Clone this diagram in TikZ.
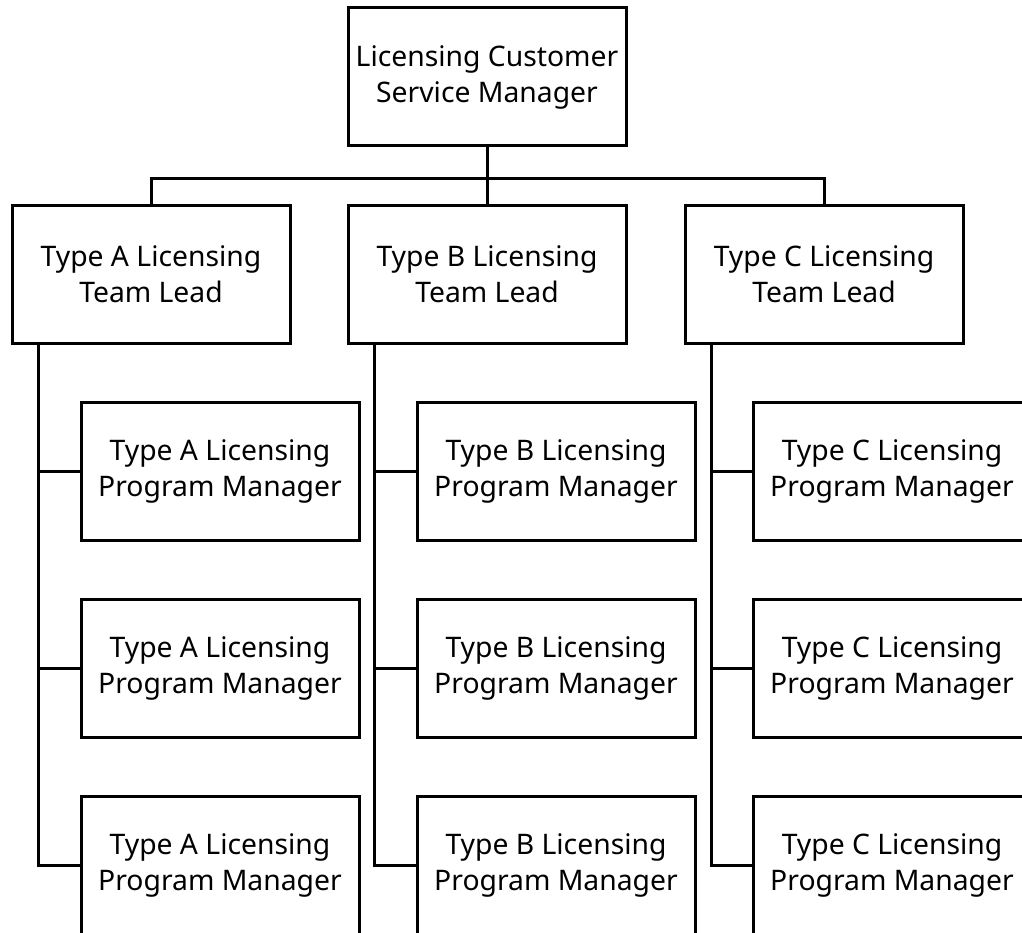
\documentclass[tikz,border=0pt]{standalone}
\usepackage{fontspec}
\setmainfont{Noto Sans}
\begin{document}
\begin{tikzpicture}[x=1pt,y=-1pt,
  label font/.style={font=\fontsize{28.3}{36}\selectfont},
  box/.style={draw,line width=3pt,minimum width=278pt,minimum height=138pt,
    inner sep=0pt,align=center,label font},
  link/.style={line width=3pt}]
\useasboundingbox (0,0) rectangle (1022,933);
\clip (0,0) rectangle (1022,933);
% manager
\node[box] (top) at (487,77) {Licensing Customer\\Service Manager};
% team leads
\node[box] (la) at (151,274.5) {Type A Licensing\\Team Lead};
\node[box] (lb) at (487,274.5) {Type B Licensing\\Team Lead};
\node[box] (lc) at (824,274.5) {Type C Licensing\\Team Lead};
% program managers
\foreach \t/\x in {a/220,b/556,c/892}{
  \foreach \r/\y in {1/471,2/668,3/865}{
    \node[box] (p\t\r) at (\x,\y) {};
  }
}
\foreach \r in {1,2,3}{
  \node[align=center,label font] at (pa\r) {Type A Licensing\\Program Manager};
  \node[align=center,label font] at (pb\r) {Type B Licensing\\Program Manager};
  \node[align=center,label font] at (pc\r) {Type C Licensing\\Program Manager};
}
% manager to team leads
\draw[link] (top.south) -- ++(0,31) -| (la.north);
\draw[link] (top.south) -- ++(0,31) -| (lc.north);
\draw[link] (top.south) -- (lb.north);
% team leads to program managers
\foreach \t in {a,b,c}{
  \draw[link] ([xshift=28pt]l\t.south west) |- (p\t3.west);
  \draw[link] ([xshift=28pt]l\t.south west |- p\t1.west) -- (p\t1.west);
  \draw[link] ([xshift=28pt]l\t.south west |- p\t2.west) -- (p\t2.west);
}
\end{tikzpicture}
\end{document}
